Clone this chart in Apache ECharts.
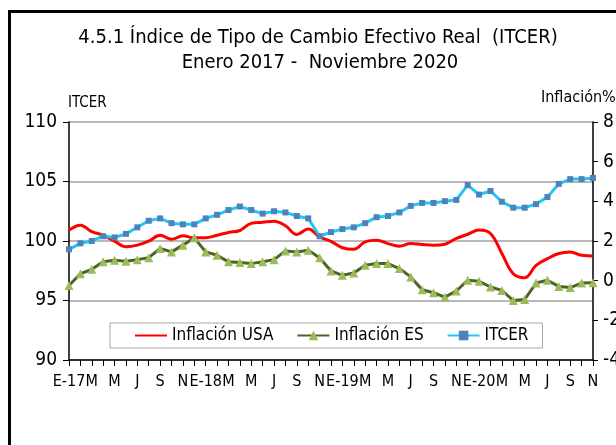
<!DOCTYPE html>
<html>

<head>
    <meta charset="utf-8">
    <title>ITCER</title>
    <script src="https://cdn.jsdelivr.net/npm/echarts@6/dist/echarts.min.js"></script>
    <style>
        html, body {
            margin: 0;
            padding: 0;
            background: #fff;
        }

        #main {
            width: 616px;
            height: 445px;
        }
    </style>
</head>

<body>
    <div id="main"></div>
    <script>
        // meses: enero 2017 - noviembre 2020
        var months = [
            'E-17', 'F', 'M', 'A', 'M', 'J', 'J', 'A', 'S', 'O', 'N', 'D',
            'E-18', 'F', 'M', 'A', 'M', 'J', 'J', 'A', 'S', 'O', 'N', 'D',
            'E-19', 'F', 'M', 'A', 'M', 'J', 'J', 'A', 'S', 'O', 'N', 'D',
            'E-20', 'F', 'M', 'A', 'M', 'J', 'J', 'A', 'S', 'O', 'N'
        ];

        // inflación USA (%), eje derecho
        var inflUSA = [
            2.55, 2.8, 2.47, 2.29, 1.99, 1.71, 1.79, 1.99, 2.29, 2.09, 2.26, 2.16,
            2.16, 2.29, 2.43, 2.53, 2.89, 2.94, 3.0, 2.77, 2.33, 2.6, 2.21, 1.98,
            1.66, 1.58, 1.96, 2.04, 1.87, 1.74, 1.87, 1.82, 1.79, 1.84, 2.13, 2.34,
            2.55, 2.38, 1.37, 0.35, 0.15, 0.77, 1.11, 1.37, 1.45, 1.28, 1.25
        ];

        // inflación ES (%), eje derecho
        var inflES = [
            -0.24, 0.35, 0.57, 0.95, 1.03, 0.98, 1.06, 1.16, 1.62, 1.45, 1.79, 2.16,
            1.45, 1.28, 0.95, 0.91, 0.86, 0.95, 1.06, 1.5, 1.45, 1.53, 1.15, 0.49,
            0.27, 0.39, 0.78, 0.86, 0.86, 0.61, 0.19, -0.46, -0.61, -0.83, -0.52, 0.02,
            -0.03, -0.32, -0.49, -1.0, -0.95, -0.12, 0.02, -0.29, -0.35, -0.12, -0.1
        ];

        // ITCER, eje izquierdo
        var itcer = [
            99.3, 99.8, 100.0, 100.4, 100.3, 100.6, 101.15, 101.7, 101.9, 101.5, 101.4, 101.4,
            101.9, 102.2, 102.6, 102.9, 102.6, 102.3, 102.5, 102.4, 102.1, 101.9, 100.4, 100.75,
            101.0, 101.15, 101.5, 102.0, 102.1, 102.4, 102.95, 103.2, 103.2, 103.35, 103.45, 104.7,
            103.9, 104.2, 103.3, 102.8, 102.8, 103.1, 103.7, 104.8, 105.2, 105.2, 105.3
        ];

        var leftTicks = [90, 95, 100, 105, 110];
        var rightTicks = [-4, -2, 0, 2, 4, 6, 8];

        var font = '"Liberation Sans Narrow", "DejaVu Sans Condensed", sans-serif';

        var chartDom = document.getElementById('main');
        var myChart = echarts.init(chartDom);
        var option;

        var xLabel = {
            interval: 1,
            hideOverlap: false,
            margin: 14,
            fontSize: 16,
            color: '#000',
            fontFamily: font
        };

        option = {
            animation: false,
            textStyle: {
                fontFamily: font,
                color: '#000'
            },
            graphic: [
                {
                    type: 'rect',
                    shape: { x: 9.5, y: 11.5, width: 700, height: 500 },
                    style: { fill: 'none', stroke: '#000', lineWidth: 3 },
                    silent: true
                },
                {
                    type: 'text',
                    x: 318,
                    y: 38,
                    style: {
                        text: '4.5.1 Índice de Tipo de Cambio Efectivo Real  (ITCER)',
                        font: '20px ' + font,
                        fill: '#000',
                        align: 'center',
                        verticalAlign: 'middle'
                    }
                },
                {
                    type: 'text',
                    x: 320,
                    y: 63,
                    style: {
                        text: 'Enero 2017 -  Noviembre 2020',
                        font: '20px ' + font,
                        fill: '#000',
                        align: 'center',
                        verticalAlign: 'middle'
                    }
                },
                {
                    type: 'text',
                    x: 68,
                    y: 103,
                    style: {
                        text: 'ITCER',
                        font: '15px ' + font,
                        fill: '#000',
                        align: 'left',
                        verticalAlign: 'middle'
                    }
                },
                {
                    type: 'text',
                    x: 541,
                    y: 98,
                    style: {
                        text: 'Inflación%',
                        font: '16px ' + font,
                        fill: '#000',
                        align: 'left',
                        verticalAlign: 'middle'
                    }
                }
            ],
            legend: {
                left: 110,
                top: 323,
                data: [
                    { name: 'Inflación USA', itemStyle: { color: 'rgba(0,0,0,0)', borderWidth: 0 } },
                    'Inflación ES',
                    'ITCER'
                ],
                borderColor: '#a6a6a6',
                borderWidth: 1,
                borderRadius: 0,
                padding: [4, 14, 4, 24],
                itemGap: 23,
                itemWidth: 32,
                itemHeight: 12,
                textStyle: {
                    fontFamily: font,
                    fontSize: 17,
                    color: '#000'
                }
            },
            grid: {
                left: 69,
                right: 23,
                top: 122,
                bottom: 85,
                containLabel: false,
                outerBoundsMode: 'none'
            },
            xAxis: [
                {
                    // eje principal: todas las etiquetas salvo la primera
                    type: 'category',
                    position: 'bottom',
                    boundaryGap: false,
                    data: months,
                    axisLine: { onZero: false, lineStyle: { color: '#000', width: 1.5 } },
                    axisTick: { interval: 0, length: 6, lineStyle: { color: '#000' } },
                    axisLabel: Object.assign({}, xLabel, {
                        formatter: function (v, i) { return i === 0 ? '' : v; }
                    }),
                    splitLine: { show: false }
                },
                {
                    // solo la etiqueta E-17
                    type: 'category',
                    position: 'bottom',
                    boundaryGap: false,
                    data: months,
                    axisLine: { show: false, onZero: false },
                    axisTick: { show: false },
                    axisLabel: Object.assign({}, xLabel, {
                        formatter: function (v, i) { return i === 0 ? v : ''; }
                    }),
                    splitLine: { show: false }
                }
            ],
            yAxis: [
                {
                    type: 'value',
                    min: leftTicks[0],
                    max: leftTicks[leftTicks.length - 1],
                    interval: 5,
                    axisLine: { show: true, lineStyle: { color: '#000', width: 1.5 } },
                    axisTick: { show: true, length: 6, lineStyle: { color: '#000' } },
                    axisLabel: {
                        margin: 12,
                        fontSize: 19,
                        color: '#000',
                        fontFamily: font
                    },
                    splitLine: { show: true, lineStyle: { color: '#a0a0a0', width: 1.5 } }
                },
                {
                    type: 'value',
                    position: 'right',
                    min: rightTicks[0],
                    max: rightTicks[rightTicks.length - 1],
                    interval: 2,
                    axisLine: { show: true, lineStyle: { color: '#000', width: 1.5 } },
                    axisTick: { show: true, length: 5, lineStyle: { color: '#000' } },
                    axisLabel: {
                        margin: 10,
                        fontSize: 19,
                        color: '#000',
                        fontFamily: font
                    },
                    splitLine: { show: false }
                }
            ],
            series: [
                {
                    name: 'Inflación USA',
                    type: 'line',
                    yAxisIndex: 1,
                    data: inflUSA,
                    smooth: 0.4,
                    symbol: 'none',
                    lineStyle: { color: '#ff0000', width: 3 },
                    itemStyle: { color: '#ff0000' },
                    z: 2
                },
                {
                    name: 'Inflación ES',
                    type: 'line',
                    yAxisIndex: 1,
                    data: inflES,
                    symbol: 'triangle',
                    symbolSize: 9,
                    showAllSymbol: true,
                    lineStyle: { color: '#4f6228', width: 3 },
                    itemStyle: { color: '#9bbb59', borderWidth: 0 },
                    z: 3
                },
                {
                    name: 'ITCER',
                    type: 'line',
                    yAxisIndex: 0,
                    data: itcer,
                    symbol: 'rect',
                    symbolSize: 6,
                    showAllSymbol: true,
                    lineStyle: { color: '#1ec8f5', width: 3 },
                    itemStyle: { color: '#4f81bd', borderWidth: 0 },
                    z: 4
                }
            ]
        };

        option && myChart.setOption(option);
    </script>
</body>

</html>
